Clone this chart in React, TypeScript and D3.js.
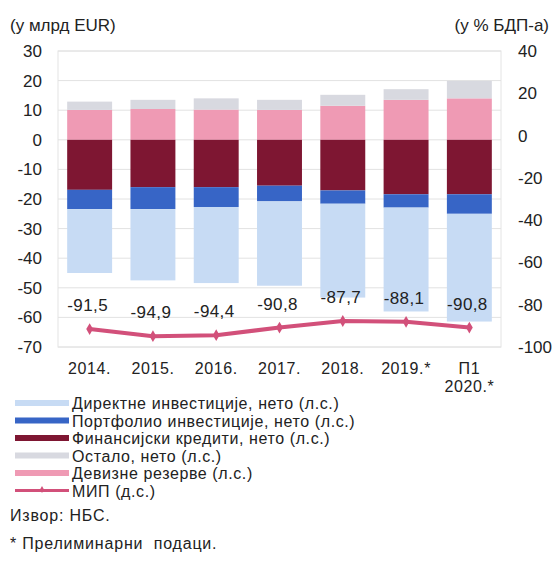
import React from "react";
import * as d3 from "d3";

const categories = ["2014.", "2015.", "2016.", "2017.", "2018.", "2019.*", "П1\n2020.*"];
const fdi = [-21.6, -24.1, -25.7, -28.5, -31.7, -35.1, -36.4];
const portfolio = [-6.5, -7.4, -6.7, -5.3, -4.5, -4.5, -6.6];
const loans = [-16.9, -16.0, -16.0, -15.5, -17.1, -18.4, -18.4];
const reserves = [10.1, 10.4, 10.2, 10.1, 11.5, 13.5, 14.0];
const other = [2.8, 3.1, 3.8, 3.4, 3.7, 3.6, 5.9];
const iip = [-91.5, -94.9, -94.4, -90.8, -87.7, -88.1, -90.8];
const iipLabels = ["-91,5", "-94,9", "-94,4", "-90,8", "-87,7", "-88,1", "-90,8"];
const leftTicks = [30, 20, 10, 0, -10, -20, -30, -40, -50, -60, -70];
const rightTicks = [40, 20, 0, -20, -40, -60, -80, -100];

const colors = {
  fdi: "#c7dbf4",
  portfolio: "#3765c6",
  loans: "#7e1632",
  other: "#d8d9e0",
  reserves: "#ef9ab4",
  iip: "#d2507a",
};

const legendItems = [
  { label: "Директне инвестиције, нето (л.с.)", color: colors.fdi, line: false },
  { label: "Портфолио инвестиције, нето (л.с.)", color: colors.portfolio, line: false },
  { label: "Финансијски кредити, нето (л.с.)", color: colors.loans, line: false },
  { label: "Остало, нето (л.с.)", color: colors.other, line: false },
  { label: "Девизне резерве (л.с.)", color: colors.reserves, line: false },
  { label: "МИП (д.с.)", color: colors.iip, line: true },
];

const W = 557;
const H = 578;
const plotL = 58;
const plotR = 501;
const plotT = 51;
const plotB = 347;
const font = "'Liberation Sans', Arial, sans-serif";

export default function App() {
  const x = d3.scaleBand().domain(categories).range([plotL, plotR]).paddingInner(0.29).paddingOuter(0.145);
  const yL = d3.scaleLinear().domain([-70, 30]).range([plotB, plotT]);
  const yR = d3.scaleLinear().domain([-100, 40]).range([plotB, plotT]);

  const bars: any[] = [];
  categories.forEach((c, i) => {
    const x0 = x(c)!;
    const bw = x.bandwidth();
    const segsPos = [
      { v: reserves[i], color: colors.reserves },
      { v: other[i], color: colors.other },
    ];
    let acc = 0;
    segsPos.forEach((s, k) => {
      const y0 = yL(acc + s.v);
      const y1 = yL(acc);
      bars.push(<rect key={`p${i}${k}`} x={x0} y={y0} width={bw} height={y1 - y0} fill={s.color} />);
      acc += s.v;
    });
    const segsNeg = [
      { v: loans[i], color: colors.loans },
      { v: portfolio[i], color: colors.portfolio },
      { v: fdi[i], color: colors.fdi },
    ];
    acc = 0;
    segsNeg.forEach((s, k) => {
      const y0 = yL(acc);
      const y1 = yL(acc + s.v);
      bars.push(<rect key={`n${i}${k}`} x={x0} y={y0} width={bw} height={y1 - y0} fill={s.color} />);
      acc += s.v;
    });
  });

  const line = d3
    .line<number>()
    .x((_, i) => x(categories[i])! + x.bandwidth() / 2)
    .y((d) => yR(d));

  const diamond = d3.symbol().type(d3.symbolDiamond).size(40)();

  return (
    <svg width={W} height={H} style={{ position: "absolute", left: 0, top: 0, background: "#fff" }} fontFamily={font}>
      <rect x={0} y={0} width={W} height={H} fill="#fff" />
      <text x={10} y={31} fontSize={17} fill="#222">(у млрд EUR)</text>
      <text x={549} y={31} fontSize={17} fill="#222" textAnchor="end">(у % БДП-а)</text>

      <rect x={plotL} y={plotT} width={plotR - plotL} height={plotB - plotT} fill="#fff" stroke="#e4e4e4" />
      {leftTicks.map((t) => (
        <line key={t} x1={plotL} x2={plotR} y1={yL(t)} y2={yL(t)} stroke="#e2e2e2" strokeWidth={1} />
      ))}
      {leftTicks.map((t) => (
        <text key={t} x={42} y={yL(t) + 6} fontSize={17} textAnchor="end" fill="#222">{t}</text>
      ))}
      {rightTicks.map((t) => (
        <text key={t} x={518} y={yR(t) + 6} fontSize={17} textAnchor="start" fill="#222">{t}</text>
      ))}

      {bars}

      <path d={line(iip) || ""} fill="none" stroke={colors.iip} strokeWidth={4} strokeLinejoin="round" />
      {iip.map((v, i) => (
        <path key={i} d={diamond} transform={`translate(${x(categories[i])! + x.bandwidth() / 2},${yR(v)})`} fill={colors.iip} />
      ))}
      {iip.map((v, i) => (
        <text key={i} x={x(categories[i])! + x.bandwidth() / 2 - 2} y={yR(v) - 18} fontSize={17} letterSpacing={0.4} textAnchor="middle" fill="#222">
          {iipLabels[i]}
        </text>
      ))}

      {categories.map((c) => {
        const lines = c.split("\n");
        return (
          <text key={c} x={x(c)! + x.bandwidth() / 2} y={374} fontSize={16} letterSpacing={0.6} textAnchor="middle" fill="#222">
            {lines.map((l, k) => (
              <tspan key={k} x={x(c)! + x.bandwidth() / 2} dy={k === 0 ? 0 : 18}>{l}</tspan>
            ))}
          </text>
        );
      })}

      {legendItems.map((it, i) => {
        const yy = 403 + i * 17.5;
        return (
          <g key={i}>
            {it.line ? (
              <g>
                <line x1={15} x2={69} y1={yy} y2={yy} stroke={it.color} strokeWidth={3} />
                <path d={d3.symbol().type(d3.symbolDiamond).size(14)()!} transform={`translate(42,${yy - 1})`} fill={it.color} />
              </g>
            ) : (
              <rect x={15} y={yy - 3} width={54} height={6} fill={it.color} />
            )}
            <text x={72} y={yy + 6} fontSize={16} letterSpacing={0.6} fill="#222">{it.label}</text>
          </g>
        );
      })}

      <text x={10} y={521} fontSize={16} letterSpacing={0.8} fill="#222">Извор: НБС.</text>
      <text x={10} y={549} fontSize={16} letterSpacing={0.8} fill="#222" style={{ whiteSpace: "pre" }}>* Прелиминарни  подаци.</text>
    </svg>
  );
}
